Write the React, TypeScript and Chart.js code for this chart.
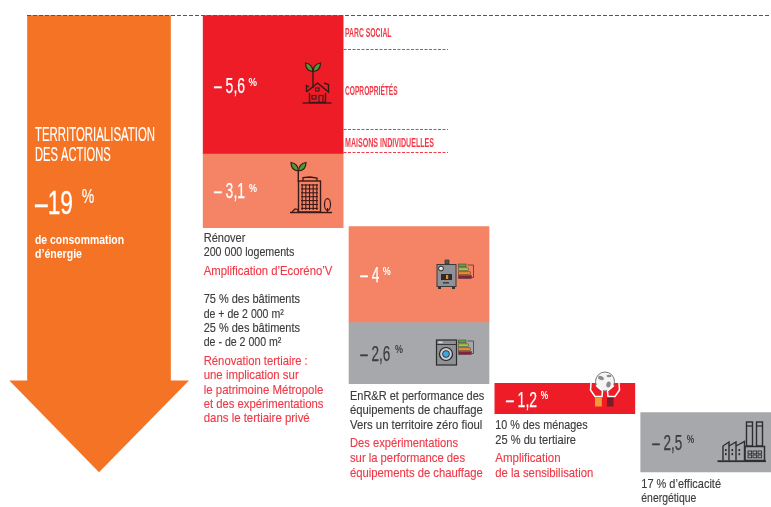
import React, { useEffect, useRef } from "react";
import { Chart, registerables } from "chart.js";

Chart.register(...registerables);

// ---- data ----
const totalName = "Territorialisation des actions";
const totalColumn = [-0.194];
const totalShaftEnd = [-15.15];
const totalTip = -18.95;

const actionNames = ["Logements", "Tertiaire", "Chauffage", "Équipements", "Sensibilisation", "Efficacité"];
const actionColumn = [1, 1, 2, 2, 3, 4];
const actionFrom = [0, -5.72, -8.76, -12.71, -15.26, -16.48];
const actionTo = [-5.72, -8.8, -12.71, -15.28, -16.52, -18.94];
const actionValueText = ["– 5,6", "– 3,1", "– 4", "– 2,6", "– 1,2", "– 2,5"];

const W = 771;
const H = 507;
const ORANGE = "#F47324";
const RED = "#ED1C27";
const SALMON = "#F58466";
const GREY = "#A7A8AB";
const DARK = "#3C3C3E";
const TEXTRED = "#EF3A48";
const actionColours = [RED, SALMON, SALMON, GREY, RED, GREY];
const FONT = '"Liberation Sans Narrow", "Liberation Sans", sans-serif';

type Line = [string, number, number, number]; // text, x, baseline, width

const darkLines: Line[] = [
  ["Rénover", 203.7, 241.5, 41.7],
  ["200 000 logements", 203.7, 256, 90.7],
  ["75 % des bâtiments", 203.7, 303, 96.3],
  ["de + de 2 000 m²", 203.7, 318, 80],
  ["25 % des bâtiments", 203.7, 332, 96.3],
  ["de - de 2 000 m²", 203.7, 346, 77.7],
  ["EnR&R et performance des", 350, 400.3, 134.3],
  ["équipements de chauffage", 350, 414, 132.7],
  ["Vers un territoire zéro fioul", 350, 429, 132.3],
  ["10 % des ménages", 495.3, 429.3, 92.3],
  ["25 % du tertiaire", 495.3, 443.7, 80.7],
  ["17 % d’efficacité", 641.3, 488.3, 79.7],
  ["énergétique", 641.3, 502, 55],
];
const redLines: Line[] = [
  ["Amplification d’Ecoréno’V", 203.7, 274.5, 128.7],
  ["Rénovation tertiaire :", 203.7, 364.7, 104],
  ["une implication sur", 203.7, 379, 95],
  ["le patrimoine Métropole", 203.7, 394, 119.7],
  ["et des expérimentations", 203.7, 408, 119.7],
  ["dans le tertiaire privé", 203.7, 422, 106],
  ["Des expérimentations", 350, 447, 108],
  ["sur la performance des", 350, 462, 115],
  ["équipements de chauffage", 350, 476.7, 132.7],
  ["Amplification", 495.3, 462, 65.3],
  ["de la sensibilisation", 495.3, 476.7, 98],
];
const sectorLines: Line[] = [
  ["PARC SOCIAL", 345, 37.3, 46.5],
  ["COPROPRIÉTÉS", 345, 94.7, 52.7],
  ["MAISONS INDIVIDUELLES", 345, 146.7, 89],
];
const sectorRules = [49.5, 129.5, 152.5];
// value label: x, baseline, width, % x, % baseline, % width
const valueLayout = [
  [214, 93, 31, 248.5, 85.5, 8.5],
  [214, 197.7, 31, 249, 191.5, 8],
  [360.3, 282, 19, 382.7, 275, 8],
  [360.3, 360.7, 30, 395, 353, 8],
  [506, 406.7, 31, 540.7, 399, 7.5],
  [652.3, 450, 30, 686.7, 443, 7.5],
];

function put(ctx: CanvasRenderingContext2D, t: string, x: number, y: number, w: number, font: string, color: string, heavy = 0) {
  ctx.save();
  ctx.font = font;
  ctx.fillStyle = color;
  ctx.textBaseline = "alphabetic";
  ctx.textAlign = "left";
  const m = ctx.measureText(t).width;
  ctx.translate(x, y);
  ctx.scale(w / m, 1);
  ctx.fillText(t, 0, 0);
  if (heavy > 0) {
    ctx.strokeStyle = color;
    ctx.lineWidth = heavy;
    ctx.strokeText(t, 0, 0);
  }
  ctx.restore();
}

function rect(ctx: CanvasRenderingContext2D, x: number, y: number, w: number, h: number, fill?: string, stroke?: string, lw = 1) {
  if (fill) { ctx.fillStyle = fill; ctx.fillRect(x, y, w, h); }
  if (stroke) { ctx.strokeStyle = stroke; ctx.lineWidth = lw; ctx.strokeRect(x, y, w, h); }
}

function poly(ctx: CanvasRenderingContext2D, pts: number[], stroke: string, lw = 1, close = false, fill?: string) {
  ctx.beginPath();
  ctx.moveTo(pts[0], pts[1]);
  for (let i = 2; i < pts.length; i += 2) ctx.lineTo(pts[i], pts[i + 1]);
  if (close) ctx.closePath();
  if (fill) { ctx.fillStyle = fill; ctx.fill(); }
  ctx.strokeStyle = stroke; ctx.lineWidth = lw; ctx.stroke();
}

function sprout(ctx: CanvasRenderingContext2D, cx: number, y: number, ink: string) {
  for (const s of [-1, 1]) {
    ctx.beginPath();
    ctx.moveTo(cx, y + 8.5);
    ctx.quadraticCurveTo(cx + s * 0.5, y + 1, cx + s * 7.5, y);
    ctx.quadraticCurveTo(cx + s * 7.5, y + 8, cx, y + 8.5);
    ctx.fillStyle = "#4E9A38";
    ctx.fill();
    ctx.strokeStyle = ink; ctx.lineWidth = 1.2; ctx.stroke();
  }
}

function energyBars(ctx: CanvasRenderingContext2D, x: number, y: number) {
  const cols = ["#5FA640", "#A6C94A", "#EE8A2A", "#8C1D3F"];
  const widths = [7.5, 10, 12, 13];
  cols.forEach((c, i) => rect(ctx, x, y + i * 3.9, widths[i], 2.8, c, "#3a3a3a", 0.5));
  poly(ctx, [x + 9, y + 1, x + 15, y + 1, x + 15, y + 13.5, x + 13.5, y + 13.5], "#4a3a3a", 0.8);
}

function drawIcons(ctx: CanvasRenderingContext2D) {
  const ink = "#3A1A18";
  ctx.save();
  ctx.lineJoin = "miter";
  // house with sprout
  sprout(ctx, 313, 63, ink);
  poly(ctx, [313, 71, 313, 88], ink, 1.4);
  poly(ctx, [306.5, 92, 306.5, 85.5, 309, 87], ink, 1.4);
  poly(ctx, [306.5, 92, 317.5, 83, 328.5, 92, 328.5, 84.5, 324, 83], ink, 1.4);
  poly(ctx, [309.5, 93, 309.5, 102.5, 325.5, 102.5, 325.5, 93], ink, 1.4);
  rect(ctx, 315.5, 88, 3.5, 3, undefined, ink, 1.1);
  rect(ctx, 312, 95.5, 4, 3.5, undefined, ink, 1.1);
  rect(ctx, 319, 95.5, 4, 7, undefined, ink, 1.1);
  poly(ctx, [302.5, 103, 331.5, 103], ink, 1.3);
  // building with sprout
  sprout(ctx, 298.5, 162.5, ink);
  poly(ctx, [298.3, 170.5, 298.3, 182], ink, 1.4);
  poly(ctx, [303, 181, 303, 177.5, 310, 177, 317, 178, 317, 181], ink, 1.3);
  rect(ctx, 298.5, 181, 22, 31, undefined, ink, 1.4);
  ctx.strokeStyle = ink; ctx.lineWidth = 1.1;
  for (let i = 1; i < 6; i++) { const x = 298.5 + i * 3.67; ctx.beginPath(); ctx.moveTo(x, 184); ctx.lineTo(x, 210); ctx.stroke(); }
  for (let j = 0; j < 7; j++) { const y = 185 + j * 3.9; ctx.beginPath(); ctx.moveTo(301, y); ctx.lineTo(318, y); ctx.stroke(); }
  ctx.beginPath(); ctx.ellipse(327.5, 204.5, 3, 5.8, 0, 0, Math.PI * 2); ctx.lineWidth = 1.2; ctx.stroke();
  poly(ctx, [327.5, 208, 327.5, 212.5], ink, 1.1);
  poly(ctx, [290, 212.5, 332, 212.5], ink, 1.4);
  poly(ctx, [292, 212, 295, 209, 298, 209.5, 298, 212], ink, 1.2);
  // boiler
  rect(ctx, 445, 260, 4, 4, "#555", "#2b2b2b", 0.6);
  rect(ctx, 437, 264.5, 19, 22, "#8F9196", "#3a3a3a", 1);
  ctx.beginPath(); ctx.arc(441, 268.5, 2.4, 0, Math.PI * 2); ctx.fillStyle = "#e8e8e8"; ctx.fill(); ctx.strokeStyle = "#222"; ctx.lineWidth = 1; ctx.stroke();
  rect(ctx, 441, 274, 11, 6, "#2b2b2b");
  rect(ctx, 446, 275, 2.2, 4, "#E88A2A");
  rect(ctx, 443, 282, 6, 1.6, "#444");
  rect(ctx, 438, 287, 3, 2, "#333");
  rect(ctx, 452, 287, 3, 2, "#333");
  energyBars(ctx, 458.5, 264);
  // washer
  rect(ctx, 436.5, 340, 20, 25, "#8F9196", "#2b2b2b", 1.2);
  poly(ctx, [437, 344.5, 456, 344.5], "#2b2b2b", 0.9);
  rect(ctx, 438.5, 341.5, 4, 1.6, "#ddd");
  ctx.beginPath(); ctx.arc(446, 354, 6.5, 0, Math.PI * 2); ctx.fillStyle = "#c9cbd0"; ctx.fill(); ctx.strokeStyle = "#222"; ctx.lineWidth = 1.2; ctx.stroke();
  ctx.beginPath(); ctx.arc(446, 354, 3.4, 0, Math.PI * 2); ctx.fillStyle = "#3FA7DC"; ctx.fill(); ctx.lineWidth = 0.8; ctx.stroke();
  energyBars(ctx, 458.5, 340);
  // hands and globe
  const white = "#ffffff";
  ctx.beginPath(); ctx.arc(605, 381.5, 9.5, 0, Math.PI * 2); ctx.fillStyle = "#f4f4f4"; ctx.fill(); ctx.strokeStyle = "#777"; ctx.lineWidth = 1; ctx.stroke();
  ctx.fillStyle = "#8b8b8b";
  ctx.beginPath(); ctx.ellipse(601, 378, 3, 2, 0.4, 0, Math.PI * 2); ctx.fill();
  ctx.beginPath(); ctx.ellipse(608.5, 384.5, 2.2, 3, 0.2, 0, Math.PI * 2); ctx.fill();
  ctx.beginPath(); ctx.ellipse(609, 376, 2.4, 1.3, 0, 0, Math.PI * 2); ctx.fill();
  poly(ctx, [591, 383, 590.5, 390, 595, 396.5, 602, 396.5, 602.5, 391, 596, 385.5], white, 1.5);
  poly(ctx, [619, 383, 619.5, 390, 615, 396.5, 608, 396.5, 607.5, 391, 614, 385.5], white, 1.5);
  rect(ctx, 595, 397.5, 6.8, 9, "#F39A3A");
  rect(ctx, 607, 397.5, 6.6, 9, "#7D1B2B");
  // factory
  const fi = "#2E2E30";
  rect(ctx, 746.5, 422, 6, 24, undefined, fi, 1.4);
  rect(ctx, 756.5, 422, 6, 24, undefined, fi, 1.4);
  poly(ctx, [746.5, 426, 752.5, 426], fi, 1.2); poly(ctx, [756.5, 426, 762.5, 426], fi, 1.2);
  rect(ctx, 745, 446.5, 19.5, 14, undefined, fi, 1.5);
  poly(ctx, [723, 460.5, 723, 446, 729, 442, 729, 460.5], fi, 1.4);
  poly(ctx, [729, 446, 736, 442, 736, 460.5], fi, 1.4);
  poly(ctx, [736, 446, 744.5, 441.5, 744.5, 460.5], fi, 1.4);
  for (const wx of [725, 731.5, 738.5]) for (const wy of [449, 453]) rect(ctx, wx, wy, 1.6, 2.2, fi);
  for (const wx of [748, 753, 758]) for (const wy of [451, 455]) rect(ctx, wx, wy, 3.6, 2.8, undefined, fi, 0.9);
  rect(ctx, 717.5, 460.3, 48.5, 1.8, fi);
  ctx.restore();
}

const overlay = {
  id: "overlay",
  afterDatasetsDraw(chart: any) {
    const { ctx, scales } = chart;
    const x = scales.x;
    const y = scales.y;

    // arrow head, from the shaft's end to the total
    const cx = x.getPixelForValue(totalColumn[0]);
    const yA = y.getPixelForValue(totalShaftEnd[0]);
    const yT = y.getPixelForValue(totalTip);
    ctx.save();
    ctx.beginPath();
    ctx.moveTo(cx - 89.7, yA);
    ctx.lineTo(cx + 90, yA);
    ctx.lineTo(cx, yT);
    ctx.closePath();
    ctx.fillStyle = ORANGE;
    ctx.fill();

    // zero line
    ctx.setLineDash([4, 2]);
    ctx.strokeStyle = "#555";
    ctx.lineWidth = 1;
    ctx.beginPath();
    ctx.moveTo(27, y.getPixelForValue(0));
    ctx.lineTo(W, y.getPixelForValue(0));
    ctx.stroke();

    // sector rules
    ctx.setLineDash([3, 1.5]);
    ctx.strokeStyle = TEXTRED;
    for (const r of sectorRules) {
      ctx.beginPath();
      ctx.moveTo(343.5, r);
      ctx.lineTo(448, r);
      ctx.stroke();
    }
    ctx.restore();

    // arrow text
    const bold = (s: number) => `bold ${s}px ${FONT}`;
    const reg = (s: number) => `${s}px ${FONT}`;
    put(ctx, "TERRITORIALISATION", 35, 141, 120, reg(21), "#fff", 0.2);
    put(ctx, "DES ACTIONS", 35, 160.7, 75.7, reg(21), "#fff", 0.2);
    put(ctx, "–19", 35, 214.3, 38, reg(34), "#fff", 0.35);
    put(ctx, "%", 81.7, 203, 12.5, reg(21), "#fff", 0.2);
    put(ctx, "de consommation", 35, 244, 89, bold(12), "#fff");
    put(ctx, "d’énergie", 35, 258, 47, bold(12), "#fff");

    // value labels
    actionValueText.forEach((t, i) => {
      const [vx, vy, vw, px, py, pw] = valueLayout[i];
      const c = actionColours[i] === GREY ? DARK : "#fff";
      put(ctx, t, vx, vy, vw, reg(21.5), c, 0.25);
      put(ctx, "%", px, py, pw, bold(11.5), c);
    });

    for (const [t, lx, ly, lw] of darkLines) put(ctx, t, lx, ly, lw, reg(13), DARK, 0.15);
    for (const [t, lx, ly, lw] of redLines) put(ctx, t, lx, ly, lw, reg(13), TEXTRED, 0.15);
    for (const [t, lx, ly, lw] of sectorLines) put(ctx, t, lx, ly, lw, bold(13), TEXTRED);

    drawIcons(ctx);
  },
};

export default function App() {
  const ref = useRef<HTMLCanvasElement>(null);
  useEffect(() => {
    const chart = new Chart(ref.current!, {
      type: "bar",
      data: {
        datasets: [
          {
            label: totalName,
            data: totalColumn.map((c, i) => ({ x: c, y: [0, totalShaftEnd[i]] })) as any,
            backgroundColor: ORANGE,
            barThickness: 143,
          },
          ...actionNames.map((name, i) => ({
            label: name,
            data: [{ x: actionColumn[i], y: [actionFrom[i], actionTo[i]] }] as any,
            backgroundColor: actionColours[i],
            barThickness: 140,
          })),
        ],
      },
      options: {
        responsive: false,
        animation: false,
        layout: { padding: 0 },
        datasets: { bar: { grouped: false } } as any,
        plugins: { legend: { display: false }, tooltip: { enabled: false }, title: { display: false } },
        scales: {
          x: { type: "linear", display: false, offset: false, min: -0.8728, max: 4.4134 },
          y: { type: "linear", display: false, min: -20.394, max: 0.6432 },
        },
      },
      plugins: [overlay],
    });
    return () => chart.destroy();
  }, []);
  return (
    <canvas
      ref={ref}
      width={W}
      height={H}
      style={{ position: "absolute", left: 0, top: 0, display: "block", width: W, height: H }}
    />
  );
}
